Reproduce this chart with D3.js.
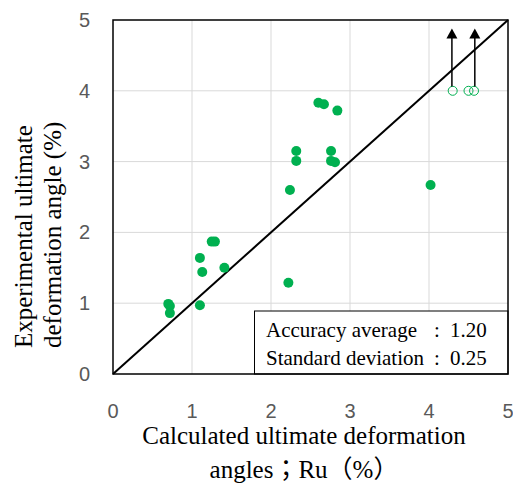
<!DOCTYPE html>
<html>
<head>
<meta charset="utf-8">
<script src="https://cdn.jsdelivr.net/npm/d3@7"></script>
<style>
  html, body { margin: 0; padding: 0; background: #fff; }
  svg { display: block; }
  .tick-label { font-family: "Liberation Sans", Arial, sans-serif; font-size: 20px; fill: #595959; }
  .title { font-family: "Liberation Serif", "Times New Roman", "Noto Sans CJK JP", serif; font-size: 25px; fill: #000; }
  .note { font-family: "Liberation Serif", "Times New Roman", serif; font-size: 21px; fill: #000; }
</style>
</head>
<body>
<svg id="chart" width="513" height="485"></svg>
<script>
/* ── Data ─────────────────────────────────────────────────────────────── */
// filled points: calculated Ru (x) vs experimental (y)
const calcX = [2.60, 2.67, 2.84, 2.32, 2.32, 2.76, 2.76, 2.81, 2.24, 4.02,
               1.25, 1.29, 1.10, 1.13, 1.41, 2.22, 0.70, 0.72, 0.72, 1.10];
const expY  = [3.83, 3.81, 3.72, 3.15, 3.01, 3.15, 3.01, 2.99, 2.60, 2.67,
               1.87, 1.87, 1.64, 1.44, 1.50, 1.29, 0.99, 0.96, 0.86, 0.97];
// hollow points (not failed, lower bound)
const openX = [4.30, 4.50, 4.57];
const openY = [4.00, 4.00, 4.00];
// arrows from hollow points upward
const arrowX  = [4.29, 4.58];
const arrowY0 = [4.06, 4.06];
const arrowY1 = [4.88, 4.88];
const xTicks = [0, 1, 2, 3, 4, 5];
const yTicks = [0, 1, 2, 3, 4, 5];
const noteLabels = ['Accuracy average', 'Standard deviation'];
const noteValues = ['1.20', '0.25'];

/* ── Layout ───────────────────────────────────────────────────────────── */
const M = { l: 113, r: 5, t: 20, b: 111 };
const W = 513, H = 485;
const svg = d3.select('#chart');
const x = d3.scaleLinear().domain([0, 5]).range([M.l, W - M.r]);
const y = d3.scaleLinear().domain([0, 5]).range([H - M.b, M.t]);
const GREEN = '#00B050';

/* ── Grid ─────────────────────────────────────────────────────────────── */
const grid = svg.append('g');
xTicks.slice(1, -1).forEach(t => {
  grid.append('line').attr('x1', x(t)).attr('x2', x(t)).attr('y1', y(0)).attr('y2', y(5))
    .attr('stroke', '#d9d9d9').attr('stroke-width', 1);
});
yTicks.slice(1, -1).forEach(t => {
  grid.append('line').attr('x1', x(0)).attr('x2', x(5)).attr('y1', y(t)).attr('y2', y(t))
    .attr('stroke', '#d9d9d9').attr('stroke-width', 1);
});

/* ── Tick labels ──────────────────────────────────────────────────────── */
svg.append('g').selectAll('text').data(xTicks).join('text')
  .attr('class', 'tick-label').attr('x', d => x(d)).attr('y', 418)
  .attr('text-anchor', 'middle').text(d => d);
svg.append('g').selectAll('text').data(yTicks).join('text')
  .attr('class', 'tick-label').attr('x', 90).attr('y', d => y(d) + 7)
  .attr('text-anchor', 'end').text(d => d);

/* ── Diagonal 1:1 line ────────────────────────────────────────────────── */
svg.append('line').attr('x1', x(0)).attr('y1', y(0)).attr('x2', x(5)).attr('y2', y(5))
  .attr('stroke', '#000').attr('stroke-width', 2);

/* ── Note box ─────────────────────────────────────────────────────────── */
const nb = svg.append('g');
nb.append('rect').attr('x', 254.5).attr('y', 311).attr('width', x(5) - 254.5).attr('height', y(0) - 311)
  .attr('fill', '#fff').attr('stroke', '#000').attr('stroke-width', 1);
noteLabels.forEach((lab, i) => {
  const by = 337 + i * 27.5;
  nb.append('text').attr('class', 'note').attr('x', 266).attr('y', by).text(lab);
  nb.append('text').attr('class', 'note').attr('x', 437).attr('y', by).attr('text-anchor', 'middle').text(':');
  nb.append('text').attr('class', 'note').attr('x', 450).attr('y', by).text(noteValues[i]);
});

/* ── Points ───────────────────────────────────────────────────────────── */
svg.append('g').selectAll('circle').data(calcX).join('circle')
  .attr('cx', d => x(d)).attr('cy', (d, i) => y(expY[i])).attr('r', 5)
  .attr('fill', GREEN);
svg.append('g').selectAll('circle').data(openX).join('circle')
  .attr('cx', d => x(d)).attr('cy', (d, i) => y(openY[i])).attr('r', 4.5)
  .attr('fill', 'none').attr('stroke', GREEN).attr('stroke-width', 1);

/* ── Arrows ───────────────────────────────────────────────────────────── */
const ag = svg.append('g');
arrowX.forEach((ax, i) => {
  const px = x(ax), top = y(arrowY1[i]);
  ag.append('line').attr('x1', px).attr('x2', px).attr('y1', y(arrowY0[i])).attr('y2', top + 8)
    .attr('stroke', '#000').attr('stroke-width', 1.5);
  ag.append('path').attr('d', `M${px},${top} L${px - 5.5},${top + 10} L${px + 5.5},${top + 10} Z`)
    .attr('fill', '#000');
});

/* ── Frame ────────────────────────────────────────────────────────────── */
svg.append('rect').attr('x', x(0)).attr('y', y(5)).attr('width', x(5) - x(0)).attr('height', y(0) - y(5))
  .attr('fill', 'none').attr('stroke', '#000').attr('stroke-width', 1.5);

/* ── Axis titles ──────────────────────────────────────────────────────── */
svg.append('text').attr('class', 'title').attr('x', 304).attr('y', 444)
  .attr('text-anchor', 'middle').text('Calculated ultimate deformation');
svg.append('text').attr('class', 'title').attr('x', 304).attr('y', 478)
  .attr('text-anchor', 'middle').text('angles；Ru（%）');
const yt = svg.append('text').attr('class', 'title')
  .attr('transform', 'translate(32,348) rotate(-90)').attr('text-anchor', 'start');
yt.append('tspan').attr('x', 0).attr('dy', 0).text('Experimental ultimate');
yt.append('tspan').attr('x', 0).attr('dy', 29).text('deformation angle (%)');
</script>
</body>
</html>
